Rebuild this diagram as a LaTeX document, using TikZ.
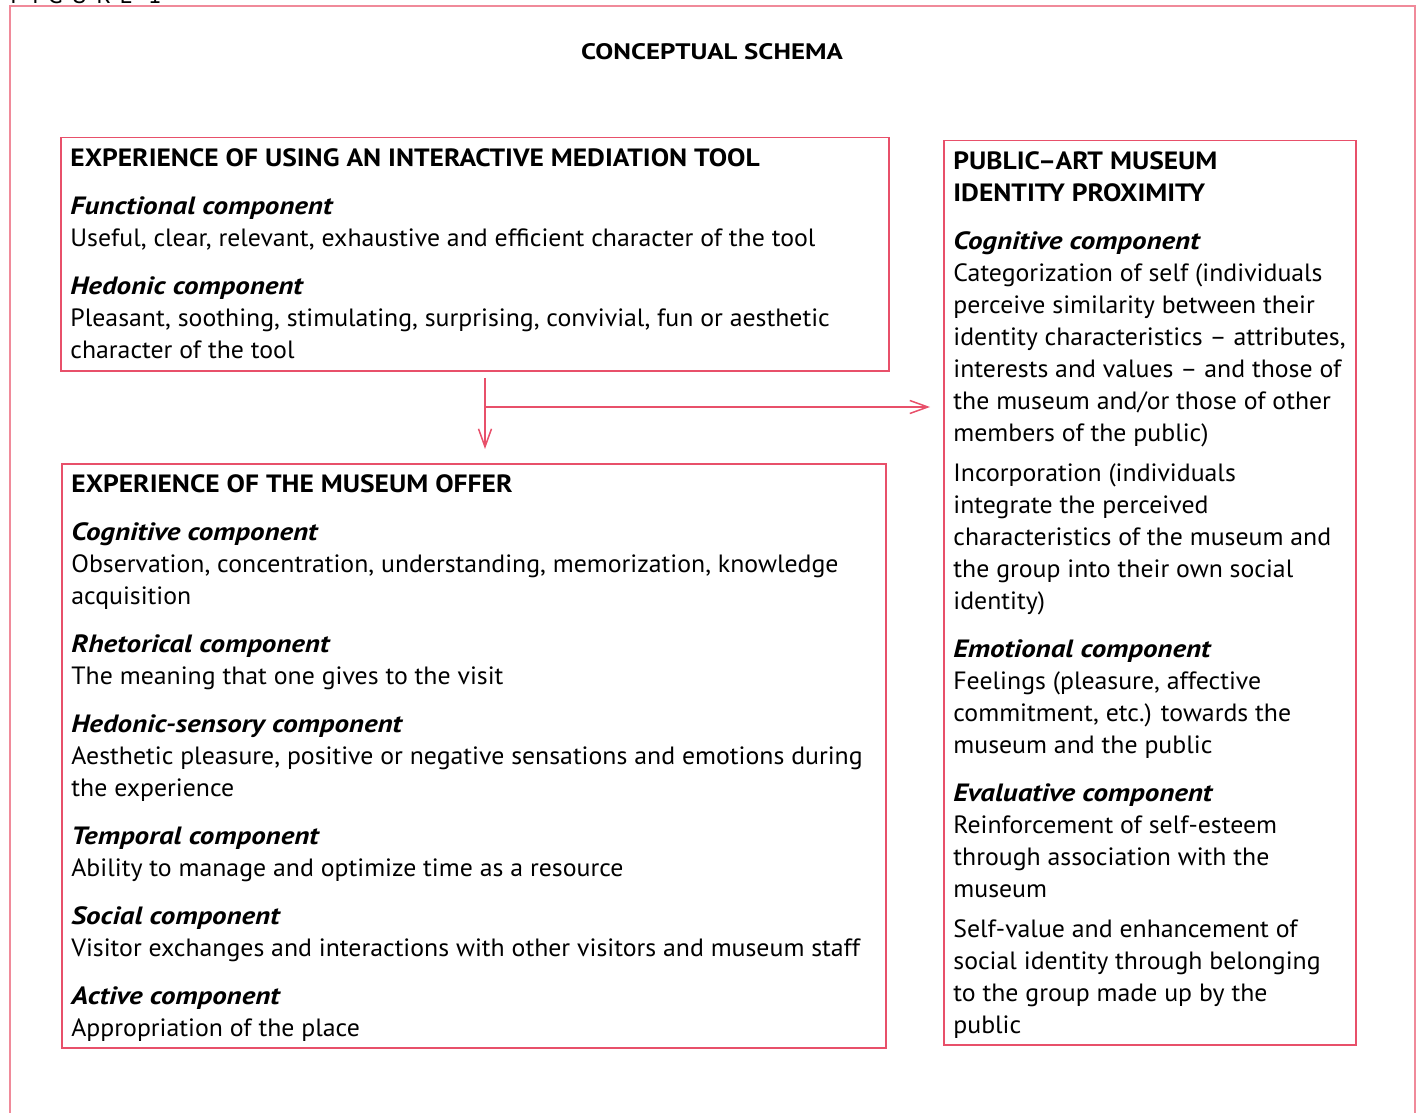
\documentclass[tikz,border=0pt]{standalone}
\usepackage{fontspec}
\setmainfont{PT Sans}[UprightFeatures={FakeStretch=1.032}, BoldFeatures={FakeStretch=1.1}, BoldItalicFeatures={FakeStretch=1.16}]
\newfontfamily\titlefont{PT Sans Bold}[FakeStretch=1.2]
\usetikzlibrary{arrows.meta}
\definecolor{schemared}{HTML}{E8506A}
\definecolor{framepink}{HTML}{F08A9A}
\tikzset{
  panel/.style={draw=schemared, line width=0.75pt, inner sep=0pt, anchor=north west},
  paneltext/.style={inner sep=0pt, anchor=north west, align=left, font=\fontsize{12.5}{16}\selectfont},
  link/.style={draw=schemared, line width=0.75pt, -{Straight Barb[length=9pt,width=6.5pt]}}
}
\newcommand{\comp}[1]{\textbf{\textit{#1}}}

\begin{document}
\begin{tikzpicture}[x=0.5pt,y=-0.5pt]
	\useasboundingbox (0,0) rectangle (1425,1113);
	\draw[framepink, line width=0.75pt] (10,1140) -- (10,6) -- (1415,6) -- (1415,1140);
	\node[anchor=base west, inner sep=0pt, font=\fontsize{12}{12}\selectfont\addfontfeature{LetterSpace=36}] (figlabel) at (10,4) {FIGURE 1};
	\node[font=\titlefont\fontsize{11.2}{13}\selectfont] (title) at (712,52) {CONCEPTUAL SCHEMA};
	
	\node[panel, minimum width=414pt, minimum height=116.5pt] (tool) at (60,137) {};
	\node[paneltext] (tooltext) at ([shift={(10,11)}]tool.north west) {%
		\textbf{EXPERIENCE OF USING AN INTERACTIVE MEDIATION TOOL}\\[8pt]
		\comp{Functional component}\\
		Useful, clear, relevant, exhaustive and efficient character of the tool\\[8pt]
		\comp{Hedonic component}\\
		Pleasant, soothing, stimulating, surprising, convivial, fun or aesthetic\\
		character of the tool};
	
	\node[panel, minimum width=412pt, minimum height=292pt] (offer) at (61,463) {};
	\node[paneltext] (offertext) at ([shift={(10,11)}]offer.north west) {%
		\textbf{EXPERIENCE OF THE MUSEUM OFFER}\\[8pt]
		\comp{Cognitive component}\\
		Observation, concentration, understanding, memorization, knowledge\\
		acquisition\\[8pt]
		\comp{Rhetorical component}\\
		The meaning that one gives to the visit\\[8pt]
		\comp{Hedonic-sensory component}\\
		Aesthetic pleasure, positive or negative sensations and emotions during\\
		the experience\\[8pt]
		\comp{Temporal component}\\
		Ability to manage and optimize time as a resource\\[8pt]
		\comp{Social component}\\
		Visitor exchanges and interactions with other visitors and museum staff\\[8pt]
		\comp{Active component}\\
		Appropriation of the place};
	
	\node[panel, minimum width=206pt, minimum height=452pt] (proximity) at (943,140) {};
	\node[paneltext] (proximitytext) at ([shift={(10,11)}]proximity.north west) {%
		\textbf{PUBLIC–ART MUSEUM}\\
		\textbf{IDENTITY PROXIMITY}\\[8pt]
		\comp{Cognitive component}\\
		Categorization of self (individuals\\
		perceive similarity between their\\
		identity characteristics – attributes,\\
		interests and values – and those of\\
		the museum and/or those of other\\
		members of the public)\\[4pt]
		Incorporation (individuals\\
		integrate the perceived\\
		characteristics of the museum and\\
		the group into their own social\\
		identity)\\[8pt]
		\comp{Emotional component}\\
		Feelings (pleasure, affective\\
		commitment, etc.) towards the\\
		museum and the public\\[8pt]
		\comp{Evaluative component}\\
		Reinforcement of self-esteem\\
		through association with the\\
		museum\\[4pt]
		Self-value and enhancement of\\
		social identity through belonging\\
		to the group made up by the\\
		public};
	
	\coordinate (fork) at (485,378);
	\coordinate (branch) at (485,407);
	\draw[link, shorten >=7pt] (fork) -- (fork |- offer.north);
	\draw[link, shorten >=6.5pt] (branch) -- (branch -| proximity.west);
\end{tikzpicture}
\end{document}
